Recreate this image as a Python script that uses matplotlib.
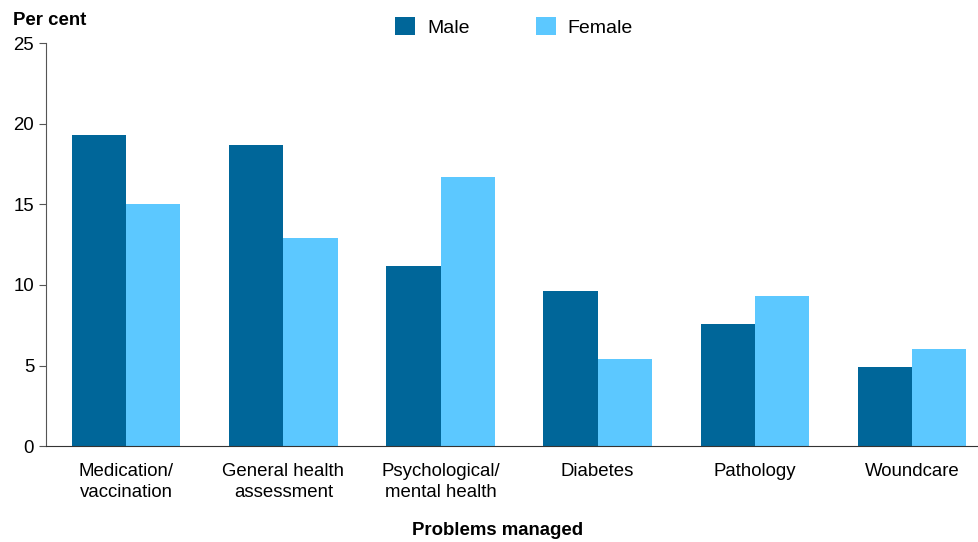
import numpy as np
import matplotlib
matplotlib.use('Agg')
import matplotlib.pyplot as plt

plt.rcParams['font.family'] = ['Liberation Sans', 'DejaVu Sans']

# problems managed, male vs female (per cent)
categories = ['Medication/\nvaccination', 'General health\nassessment', 'Psychological/\nmental health',
              'Diabetes', 'Pathology', 'Woundcare']
male = [19.3, 18.7, 11.2, 9.6, 7.6, 4.9]
female = [15.0, 12.9, 16.7, 5.4, 9.3, 6.0]

fig = plt.figure(figsize=(9.79, 5.42), dpi=100)
ax = fig.add_axes([0.047, 0.177, 0.952, 0.743])

x = np.arange(len(categories))
w = 0.345
ax.bar(x - w/2, male, w, color='#006699', label='Male')
ax.bar(x + w/2, female, w, color='#5CC8FF', label='Female')

ax.set_xlim(-0.51, 5.42)
ax.set_ylim(0, 25)
ax.set_yticks([0, 5, 10, 15, 20, 25])
ax.set_xticks(x)
ax.set_xticklabels(categories, fontsize=13.4, linespacing=1.3)
ax.tick_params(axis='x', length=0, pad=12)
ax.tick_params(axis='y', labelsize=13.4, length=5, color='#555555')

for s in ['top', 'right']:
    ax.spines[s].set_visible(False)
ax.spines['left'].set_color('#555555')
ax.spines['bottom'].set_color('#333333')

fig.text(0.013, 0.963, 'Per cent', fontsize=13.4, fontweight='bold', va='center')
fig.text(0.508, 0.022, 'Problems managed', fontsize=13.4, fontweight='bold', ha='center', va='center')

ax.legend(loc='center', bbox_to_anchor=(0.502, 1.04), ncol=2, frameon=False,
          fontsize=14, handlelength=1.05, handleheight=1.05, columnspacing=3.4, handletextpad=0.6)

plt.savefig('out.png', dpi=100)
